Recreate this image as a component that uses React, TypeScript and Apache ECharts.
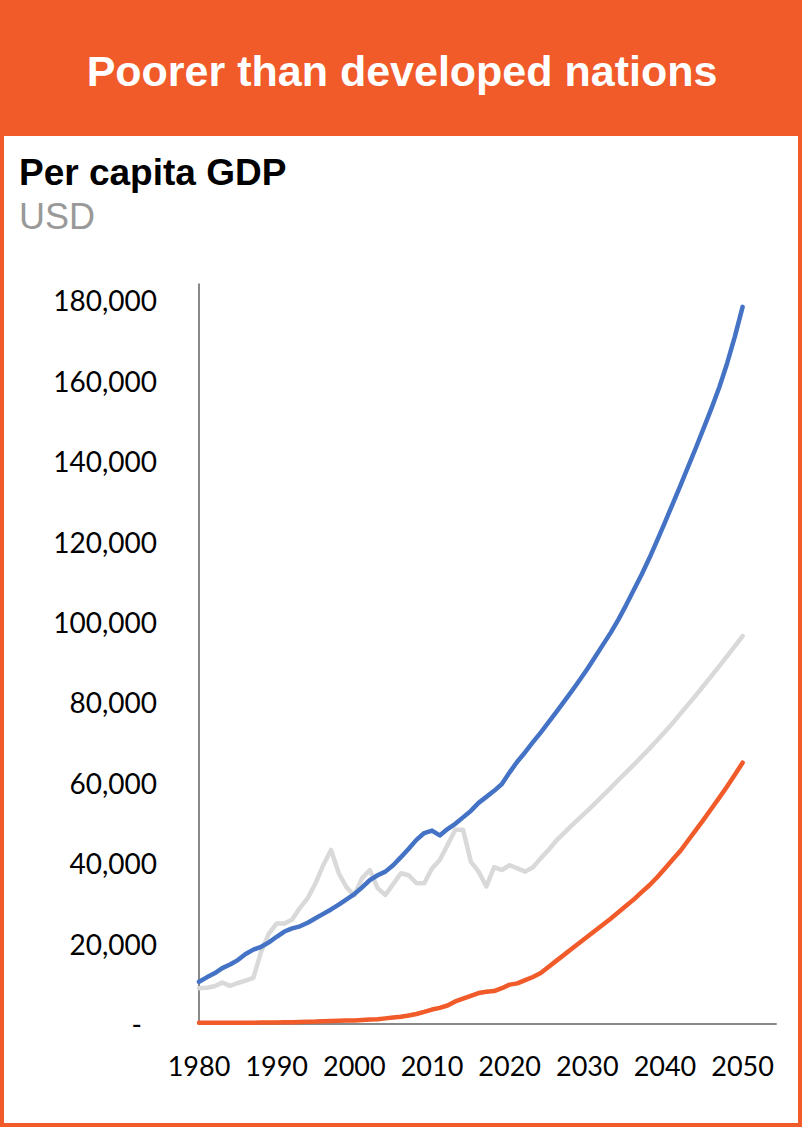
import React, { useEffect, useRef } from "react";
import * as echarts from "echarts";

const years: number[] = [];
for (let y = 1980; y <= 2050; y++) years.push(y);

const blueSeries = [
  10500, 11600, 12600, 13900, 14800, 15900, 17400, 18500, 19200, 20300,
  21700, 23000, 23800, 24300, 25200, 26300, 27400, 28500, 29700, 31000,
  32300, 34000, 35800, 37000, 37900, 39500, 41500, 43600, 45800, 47500,
  48100, 46900, 48500, 49800, 51400, 53000, 55000, 56500, 58000, 59700,
  62600, 65300, 67600, 70100, 72500, 75000, 77600, 80200, 82800, 85500,
  88300, 91300, 94300, 97300, 100600, 104200, 108000, 111800, 115900, 120300,
  124800, 129400, 134000, 138700, 143400, 148300, 153200, 158400, 164300, 171000,
  178400,
];

const greySeries = [
  8900, 9000, 9400, 10300, 9500, 10200, 10800, 11500, 18000, 22500,
  25000, 25000, 26000, 28900, 31300, 35000, 39500, 43300, 37500, 34000,
  32000, 36300, 38300, 33800, 32100, 34800, 37500, 37000, 35000, 35000,
  38700, 40800, 44500, 48300, 48300, 40400, 37900, 34200, 39000, 38300,
  39500, 38700, 37900, 39000, 41200, 43300, 45600, 47500, 49400, 51200,
  53000, 54900, 56800, 58700, 60700, 62600, 64500, 66500, 68500, 70600,
  72700, 74900, 77200, 79500, 81800, 84200, 86600, 89000, 91500, 94000,
  96500,
];

const orangeSeries = [
  300, 300, 300, 300, 300, 300, 300, 300, 350, 400,
  400, 450, 450, 500, 550, 600, 700, 750, 800, 850,
  900, 1000, 1100, 1200, 1400, 1600, 1800, 2100, 2500, 3000,
  3600, 4000, 4600, 5600, 6300, 7000, 7700, 8000, 8200, 8900,
  9800, 10100, 10900, 11700, 12700, 14200, 15700, 17200, 18700, 20200,
  21700, 23200, 24700, 26200, 27800, 29400, 31000, 32800, 34500, 36500,
  38700, 40900, 43100, 45700, 48300, 50900, 53600, 56300, 59100, 62000,
  65000,
];

const headerTitle = "Poorer than developed nations";
const chartTitle = "Per capita GDP";
const unitLabel = "USD";

const ORANGE = "#F15A29";
const BLUE = "#4472C4";
const GREY = "#D9D9D9";

export default function App() {
  const ref = useRef<HTMLDivElement>(null);
  useEffect(() => {
    if (!ref.current) return;
    const chart = echarts.init(ref.current, undefined, { renderer: "svg" });
    const pair = (arr: number[]) => arr.map((v, i) => [years[i], v]);
    const lineStyle = (c: string) => ({ color: c, width: 4.5, cap: "round", join: "round" });
    chart.setOption({
      animation: false,
      backgroundColor: "#ffffff",
      grid: { left: 199, right: 26, top: 284.3, bottom: 105, containLabel: false },
      xAxis: {
        type: "value",
        min: 1980,
        max: 2054.3,
        interval: 10,
        axisLine: { show: true, lineStyle: { color: "#898989", width: 2 } },
        axisTick: { show: false },
        splitLine: { show: false },
        axisLabel: {
          margin: 28,
          fontFamily: "Lato",
          fontSize: 27,
          color: "#000",
          showMaxLabel: false,
          formatter: (v: number) => (v % 10 === 0 && v <= 2050 ? String(v) : ""),
        },
      },
      yAxis: {
        type: "value",
        min: 0,
        max: 184000,
        interval: 20000,
        axisLine: { show: true, lineStyle: { color: "#898989", width: 2 } },
        axisTick: { show: false },
        splitLine: { show: false },
        axisLabel: {
          margin: 42,
          fontFamily: "Lato",
          fontSize: 28,
          color: "#000",
          showMaxLabel: false,
          formatter: (v: number) => {
            if (v === 0) return "{z|-}";
            if (v % 20000 !== 0) return "";
            return v.toLocaleString("en-US");
          },
          rich: { z: { fontFamily: "Lato", fontSize: 28, color: "#000", padding: [0, 15, 0, 0] } },
        },
      },
      series: [
        { type: "line", data: pair(greySeries), showSymbol: false, lineStyle: lineStyle(GREY), z: 2 },
        { type: "line", data: pair(blueSeries), showSymbol: false, lineStyle: lineStyle(BLUE), z: 3 },
        { type: "line", data: pair(orangeSeries), showSymbol: false, lineStyle: lineStyle(ORANGE), z: 4 },
      ],
      graphic: [
        { type: "rect", shape: { x: 0, y: 0, width: 802, height: 136 }, style: { fill: ORANGE }, z: 10 },
        {
          type: "rect",
          shape: { x: 2, y: 0, width: 798, height: 1125 },
          style: { fill: "none", stroke: ORANGE, lineWidth: 4 },
          z: 10,
        },
        {
          type: "text",
          x: 402,
          y: 71,
          style: {
            text: headerTitle,
            fill: "#ffffff",
            font: "bold 43px 'Liberation Sans', Arial, sans-serif",
            textAlign: "center",
            textVerticalAlign: "middle",
          },
          z: 11,
        },
        {
          type: "text",
          x: 19,
          y: 172,
          style: {
            text: chartTitle,
            fill: "#000000",
            font: "bold 37px 'Liberation Sans', Arial, sans-serif",
            textAlign: "left",
            textVerticalAlign: "middle",
          },
          z: 11,
        },
        {
          type: "text",
          x: 19,
          y: 216,
          style: {
            text: unitLabel,
            fill: "#999999",
            font: "36px 'Liberation Sans', Arial, sans-serif",
            textAlign: "left",
            textVerticalAlign: "middle",
          },
          z: 11,
        },
      ],
    });
    return () => chart.dispose();
  }, []);
  return (
    <div
      ref={ref}
      style={{ position: "absolute", left: 0, top: 0, width: 802, height: 1129 }}
    />
  );
}
